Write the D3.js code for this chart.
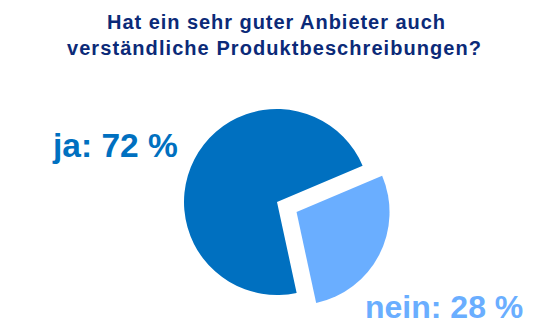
<!DOCTYPE html>
<html>
<head>
<meta charset="utf-8">
<script src="https://cdn.jsdelivr.net/npm/d3@7"></script>
<style>
	body { margin: 0; background: #fff; }
	svg { display: block; font-family: 'Liberation Sans', Arial, sans-serif; }
</style>
</head>
<body>
<div id="chart"></div>
<script>
const titleLines = ['Hat ein sehr guter Anbieter auch', 'verständliche Produktbeschreibungen?'];
const categories = ['nein', 'ja'];
const shares = [28, 72];
const labels = ['nein: 28 %', 'ja: 72 %'];

const width = 551;
const height = 333;

const svg = d3.select('#chart').append('svg')
	.attr('width', width)
	.attr('height', height);

// title, words spread out to the original line widths
const titleSpec = [
	{ x: 107, y: 29, len: 338 },
	{ x: 67, y: 55, len: 414 },
];
svg.selectAll('.title')
	.data(titleLines)
	.enter().append('text')
		.attr('class', 'title')
		.attr('x', (d, i) => titleSpec[i].x)
		.attr('y', (d, i) => titleSpec[i].y)
		.attr('textLength', (d, i) => titleSpec[i].len)
		.attr('lengthAdjust', 'spacing')
		.style('font-size', '20px')
		.style('font-weight', 'bold')
		.style('fill', '#0b2a78')
		.text((d) => d);

// pie
const cx = 277;
const cy = 202;
const radius = 93;
const explode = 22;
const start = 67 * Math.PI / 180;

const color = d3.scaleOrdinal()
	.domain(categories)
	.range(['#6aaeff', '#0070c0']);

const pie = d3.pie()
	.sort(null)
	.value((d) => d)
	.startAngle(start)
	.endAngle(start + 2 * Math.PI);

const arc = d3.arc()
	.innerRadius(0)
	.outerRadius(radius);

const arcs = pie(shares);

const g = svg.append('g').attr('transform', `translate(${cx},${cy})`);

g.selectAll('path')
	.data(arcs)
	.enter().append('path')
		.attr('d', arc)
		.attr('fill', (d, i) => color(categories[i]))
		.attr('transform', (d, i) => {
			if (categories[i] !== 'nein') return null;
			const mid = (d.startAngle + d.endAngle) / 2;
			return `translate(${Math.sin(mid) * explode},${-Math.cos(mid) * explode})`;
		});

// labels
const labelSpec = [
	{ x: 365, y: 318, size: 32 },
	{ x: 53, y: 157, size: 33.5 },
];
svg.selectAll('.label')
	.data(labels)
	.enter().append('text')
		.attr('class', 'label')
		.attr('x', (d, i) => labelSpec[i].x)
		.attr('y', (d, i) => labelSpec[i].y)
		.style('font-size', (d, i) => labelSpec[i].size + 'px')
		.style('font-weight', 'bold')
		.style('fill', (d, i) => color(categories[i]))
		.text((d) => d);
</script>
</body>
</html>
